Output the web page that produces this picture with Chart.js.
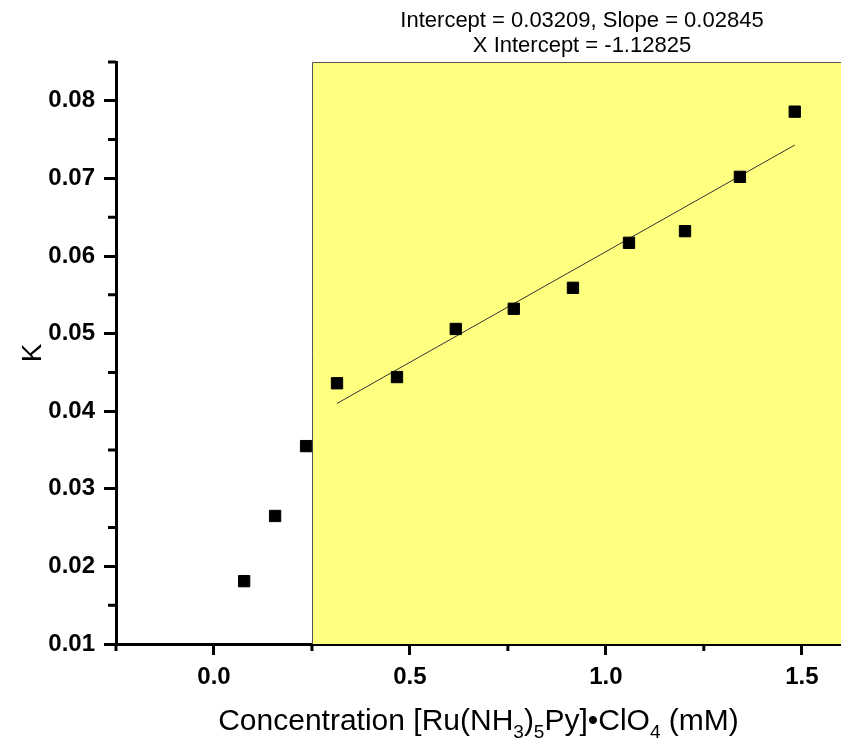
<!DOCTYPE html>
<html>
<head>
<meta charset="utf-8">
<script src="https://cdn.jsdelivr.net/npm/chart.js@4.4.1/dist/chart.umd.min.js"></script>
<style>
  body { margin: 0; background: #fff; }
  #wrap { width: 841px; height: 742px; }
</style>
</head>
<body>
<div id="wrap"><canvas id="myChart" width="841" height="742"></canvas></div>
<script>
// measured points
const concX = [0.077, 0.156, 0.235, 0.314, 0.467, 0.617, 0.765, 0.916, 1.059, 1.202, 1.342, 1.482];
const kValues = [0.0181, 0.0265, 0.0355, 0.0436, 0.0444, 0.0506, 0.0532, 0.0559, 0.0617, 0.0632, 0.0702, 0.0786];

// linear fit drawn over the upper points
const fitX = [0.314, 1.482];
const fitY = [0.0410, 0.0743];

const xTicks = [0.0, 0.5, 1.0, 1.5];
const xMinorTicks = [-0.25, 0.25, 0.75, 1.25];
const yTicks = [0.01, 0.02, 0.03, 0.04, 0.05, 0.06, 0.07, 0.08];
const yMinorTicks = [0.015, 0.025, 0.035, 0.045, 0.055, 0.065, 0.075, 0.085];

const highlightFrom = 0.25;
const titleLines = ["Intercept = 0.03209, Slope = 0.02845", "X Intercept = -1.12825"];

const FONT = "'Liberation Sans', Arial, sans-serif";

const decorPlugin = {
  id: "decor",
  beforeDatasetsDraw(chart) {
    const { ctx, chartArea, scales } = chart;
    const x0 = Math.round(scales.x.getPixelForValue(highlightFrom)) + 0.5;
    ctx.save();
    ctx.fillStyle = "#ffff80";
    ctx.fillRect(x0, chartArea.top, chartArea.right - x0, chartArea.bottom - chartArea.top);
    ctx.strokeStyle = "#555";
    ctx.lineWidth = 1;
    ctx.beginPath();
    ctx.moveTo(x0, chartArea.bottom);
    ctx.lineTo(x0, chartArea.top + 0.5);
    ctx.lineTo(chartArea.right, chartArea.top + 0.5);
    ctx.stroke();
    ctx.restore();
  },
  afterDraw(chart) {
    const { ctx, chartArea, scales } = chart;
    ctx.save();
    // minor ticks
    ctx.strokeStyle = "#000";
    ctx.lineWidth = 3;
    ctx.beginPath();
    xMinorTicks.forEach(v => {
      const px = scales.x.getPixelForValue(v);
      ctx.moveTo(px, chartArea.bottom);
      ctx.lineTo(px, chartArea.bottom + 7);
    });
    yMinorTicks.forEach(v => {
      const py = scales.y.getPixelForValue(v);
      ctx.moveTo(chartArea.left, py);
      ctx.lineTo(chartArea.left - 8, py);
    });
    ctx.stroke();

    // fit annotation
    ctx.fillStyle = "#000";
    ctx.font = "22px " + FONT;
    ctx.textAlign = "center";
    ctx.textBaseline = "middle";
    titleLines.forEach((t, i) => ctx.fillText(t, 582, 21 + i * 25));

    // x axis title with subscripts
    const parts = [
      ["Concentration [Ru(NH", false], ["3", true], [")", false], ["5", true],
      ["Py]\u2022ClO", false], ["4", true], [" (mM)", false]
    ];
    const big = "30px " + FONT, small = "19px " + FONT;
    let total = 0;
    parts.forEach(([t, sub]) => { ctx.font = sub ? small : big; total += ctx.measureText(t).width; });
    let x = (chartArea.left + chartArea.right) / 2 - total / 2;
    const base = 730;
    ctx.textAlign = "left";
    ctx.textBaseline = "alphabetic";
    parts.forEach(([t, sub]) => {
      ctx.font = sub ? small : big;
      ctx.fillText(t, x, sub ? base + 8 : base);
      x += ctx.measureText(t).width;
    });
    ctx.restore();
  }
};

const ctx = document.getElementById("myChart").getContext("2d");
const myChart = new Chart(ctx, {
  type: "scatter",
  data: {
    datasets: [
      {
        label: "K",
        data: concX.map((c, i) => ({ x: c, y: kValues[i] })),
        pointStyle: "rect",
        pointRadius: 8,
        pointHoverRadius: 8,
        backgroundColor: "#000",
        borderColor: "#000",
        borderWidth: 1,
      },
      {
        type: "line",
        label: "Fit",
        data: fitX.map((c, i) => ({ x: c, y: fitY[i] })),
        borderColor: "#333",
        borderWidth: 1,
        pointRadius: 0,
        fill: false,
      },
    ],
  },
  options: {
    responsive: false,
    devicePixelRatio: 1,
    animation: false,
    layout: { autoPadding: false, padding: { top: 62, left: 0, right: 0, bottom: 0 } },
    plugins: {
      legend: { display: false },
      tooltip: { enabled: false },
    },
    scales: {
      x: {
        type: "linear",
        min: -0.25,
        max: 1.6,
        afterBuildTicks: (scale) => { scale.ticks = xTicks.map(v => ({ value: v })); },
        afterFit: (scale) => {
          scale.height = 98;
          scale.paddingLeft = 0;
          scale.paddingRight = 0;
        },
        ticks: {
          callback: (v) => Number(v).toFixed(1),
          color: "#000",
          font: { family: FONT, size: 24, weight: "bold" },
          padding: 8,
        },
        grid: { drawOnChartArea: false, drawTicks: true, tickLength: 11, tickWidth: 3, tickColor: "#000" },
        border: { display: true, color: "#000", width: 3 },
        title: { display: false },
      },
      y: {
        type: "linear",
        min: 0.01,
        max: 0.085,
        afterBuildTicks: (scale) => { scale.ticks = yTicks.map(v => ({ value: v })); },
        afterFit: (scale) => {
          scale.width = 116;
          scale.paddingTop = 0;
          scale.paddingBottom = 0;
        },
        ticks: {
          callback: (v) => Number(v).toFixed(2),
          color: "#000",
          font: { family: FONT, size: 24, weight: "bold" },
          padding: 9,
        },
        grid: { drawOnChartArea: false, drawTicks: true, tickLength: 12, tickWidth: 3, tickColor: "#000" },
        border: { display: true, color: "#000", width: 3 },
        title: {
          display: true,
          text: "K",
          color: "#000",
          font: { family: FONT, size: 28 },
          padding: { top: 16, bottom: 0 },
        },
      },
    },
  },
  plugins: [decorPlugin],
});
</script>
</body>
</html>
